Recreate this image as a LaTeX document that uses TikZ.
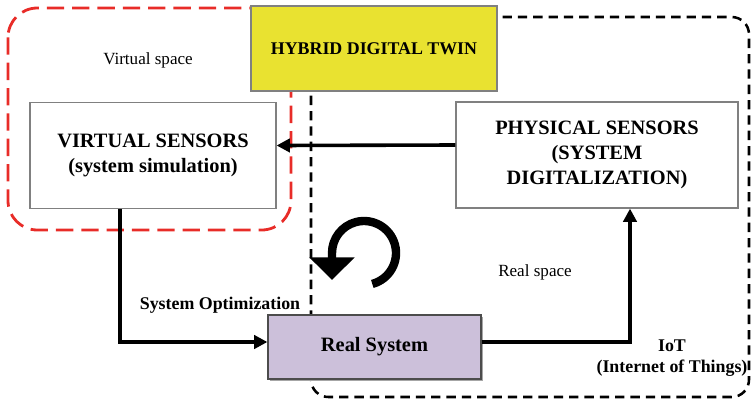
\documentclass[tikz,border=0pt]{standalone}
\usepackage{fontspec}
\setmainfont{Liberation Serif}
\usetikzlibrary{arrows.meta,calc}

\definecolor{twinyellow}{RGB}{233,226,48}
\definecolor{reallav}{RGB}{204,192,218}
\definecolor{boxgray}{RGB}{128,128,128}
\definecolor{virtred}{RGB}{232,44,40}

\tikzset{
  sensorbox/.style={draw=boxgray, line width=0.9pt, fill=white, align=center,
    font=\bfseries\fontsize{15.3}{18.5}\selectfont},
  twinbox/.style={draw=boxgray, line width=0.9pt, fill=twinyellow, align=center,
    font=\bfseries\fontsize{13.4}{16}\selectfont},
  realbox/.style={draw=black!70, line width=0.9pt, fill=reallav, align=center,
    font=\bfseries\fontsize{15.3}{18}\selectfont},
  flow/.style={line width=2.7pt, -{Triangle[length=10pt,width=10pt]}},
  plainlabel/.style={font=\fontsize{12.8}{15}\selectfont},
  boldlabel/.style={font=\bfseries\fontsize{13.4}{16}\selectfont, align=center},
  virtualzone/.style={draw=virtred, line width=2.1pt, dash pattern=on 13pt off 6pt,
    rounded corners=22pt},
  realzone/.style={draw=black, line width=1.9pt, dash pattern=on 7pt off 4.5pt,
    rounded corners=13pt},
}

\begin{document}
\begin{tikzpicture}[x=0.75pt, y=-0.75pt]
\useasboundingbox (0,0) rectangle (752,404);

% virtual and real space regions
\draw[virtualzone] (8,8) rectangle (291,230);
\draw[realzone] (311,17) rectangle (749,397);

% boxes
\node[sensorbox, minimum width=184.5pt, minimum height=80pt] (vs) at (153,155.5)
  {VIRTUAL SENSORS\\(system simulation)};
\node[sensorbox, minimum width=211.5pt, minimum height=79.5pt] (ps) at (597,155)
  {PHYSICAL SENSORS\\(SYSTEM\\DIGITALIZATION)};
\fill[black!35] (270,317) rectangle (483,381);
\node[realbox, minimum width=159.75pt, minimum height=48pt] (rs) at (374.5,347)
  {Real System};
\node[twinbox, minimum width=184.5pt, minimum height=63.75pt] (hdt) at (374,48.5)
  {HYBRID DIGITAL TWIN};

% connectors
\draw[flow] ($(ps.west)+(0,-10)$) -- ($(vs.east)+(0,-10)$);
\draw[flow] ($(vs.south)+(-33,0)$) |- ($(rs.west)+(0,-5)$);
\draw[flow] ($(rs.east)+(0,-5)$) -| ($(ps.south)+(33,0)$);

% update cycle
\coordinate (cyc) at (364,253);
\draw[line width=6.3pt, -{Triangle[length=17pt,width=33pt]}]
  ($(cyc)+(75:32)$) arc[start angle=75, end angle=-180, radius=32] -- ++(0,27);

% labels
\node[plainlabel] (vsp) at (148,60) {Virtual space};
\node[plainlabel] (rsp) at (535,272) {Real space};
\node[boldlabel] (opt) at (220,305) {System Optimization};
\node[boldlabel] (iot) at (672,358) {IoT\\(Internet of Things)};
\end{tikzpicture}
\end{document}
